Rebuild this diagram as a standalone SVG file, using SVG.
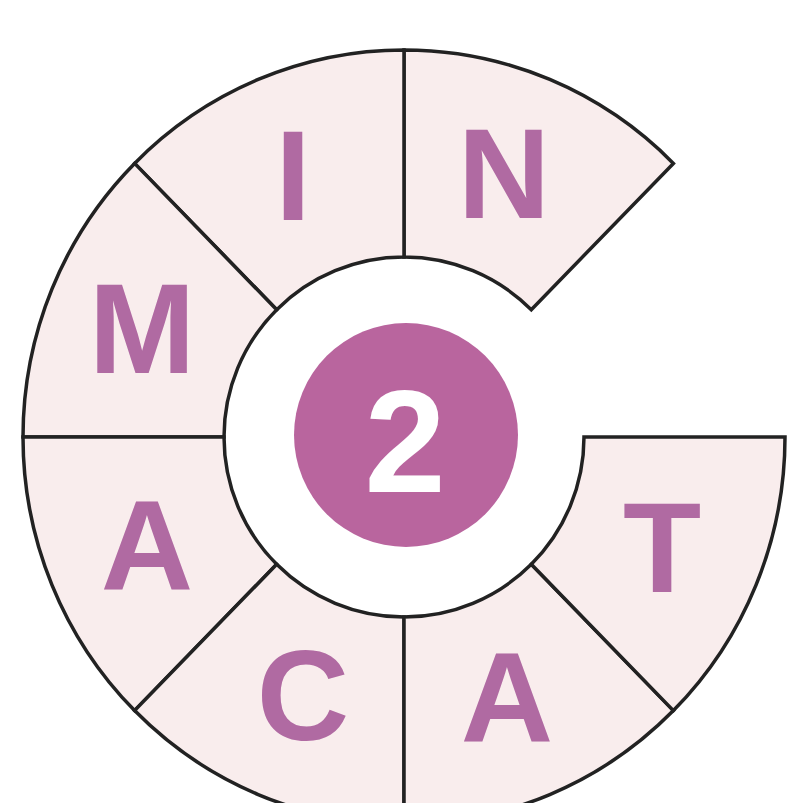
<svg xmlns="http://www.w3.org/2000/svg" width="789" height="803" viewBox="0 0 789 803">
<style>
.sec{fill:#f9eded;stroke:#222;stroke-width:3.5;stroke-linejoin:miter}
.lt{font-family:"Liberation Sans",Arial,sans-serif;font-weight:bold;font-size:128px;fill:#b06aa2;text-anchor:middle}
.num{font-family:"Liberation Sans",Arial,sans-serif;font-weight:bold;font-size:146px;fill:#ffffff;text-anchor:middle}
</style>
<rect width="789" height="803" fill="#ffffff"/>
<g id="sector-N"><path class="sec" d="M673.4 163.4 A381 387 0 0 0 404 50 L404 257 A180 180 0 0 1 531.3 309.7 Z"/><text class="lt" x="504" y="218">N</text></g>
<g id="sector-I"><path class="sec" d="M404 50 A381 387 0 0 0 134.6 163.4 L276.7 309.7 A180 180 0 0 1 404 257 Z"/><text class="lt" x="293" y="220">I</text></g>
<g id="sector-M"><path class="sec" d="M134.6 163.4 A381 387 0 0 0 23 437 L224 437 A180 180 0 0 1 276.7 309.7 Z"/><text class="lt" x="142" y="373">M</text></g>
<g id="sector-A1"><path class="sec" d="M23 437 A381 387 0 0 0 134.6 710.6 L276.7 564.3 A180 180 0 0 1 224 437 Z"/><text class="lt" x="147" y="590">A</text></g>
<g id="sector-C"><path class="sec" d="M134.6 710.6 A381 387 0 0 0 404 824 L404 617 A180 180 0 0 1 276.7 564.3 Z"/><text class="lt" x="303" y="740">C</text></g>
<g id="sector-A2"><path class="sec" d="M404 824 A381 387 0 0 0 673.4 710.6 L531.3 564.3 A180 180 0 0 1 404 617 Z"/><text class="lt" x="507" y="742">A</text></g>
<g id="sector-T"><path class="sec" d="M673.4 710.6 A381 387 0 0 0 785 437 L584 437 A180 180 0 0 1 531.3 564.3 Z"/><text class="lt" x="662" y="592">T</text></g>
<g id="center"><circle cx="406" cy="435" r="112" fill="#b9659e"/><text class="num" x="405" y="492">2</text></g>
<g id="connectors"></g>
</svg>
